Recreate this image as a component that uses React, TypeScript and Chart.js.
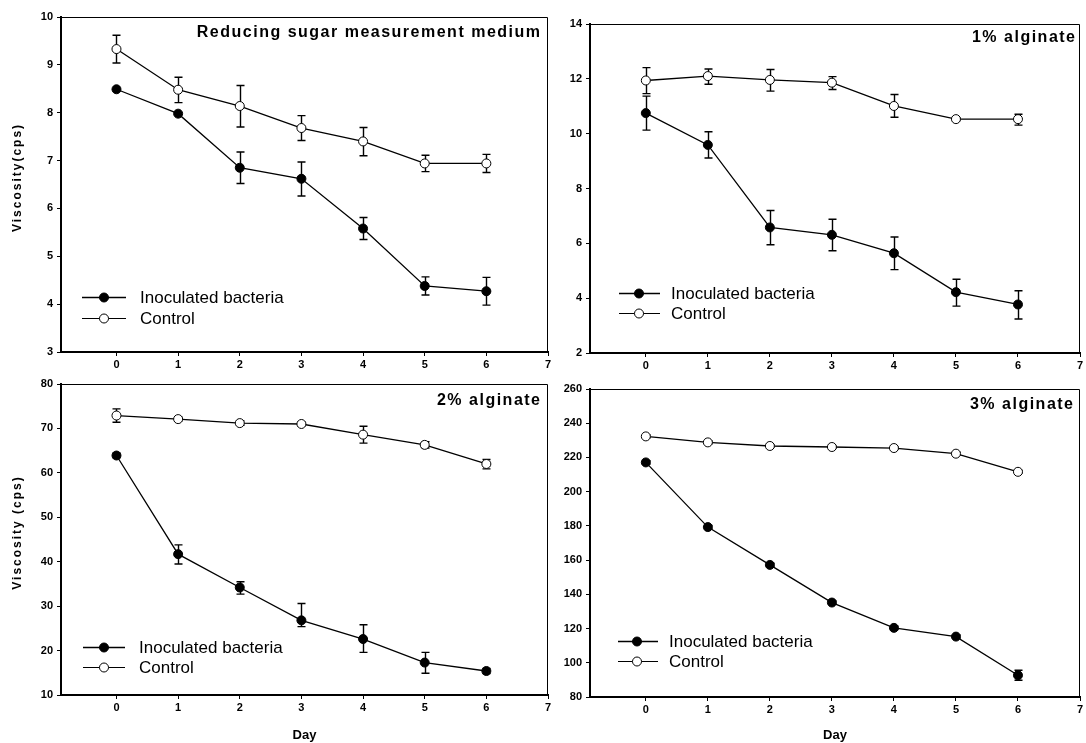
import React, { useEffect, useRef } from 'react';
import { Chart, registerables } from 'chart.js';

Chart.register(...registerables);

// ---------------- data ----------------
const DAYS = [0, 1, 2, 3, 4, 5, 6];
const X_TICKS = [0, 1, 2, 3, 4, 5, 6, 7];
const SERIES_NAMES = ['Inoculated bacteria', 'Control'];
const TITLES = ['Reducing sugar measurement medium', '1% alginate', '2% alginate', '3% alginate'];
const Y_TITLES = ['Viscosity(cps)', null, 'Viscosity (cps)', null];
const X_TITLE = 'Day';

const SUGAR_INOC = [8.49, 7.98, 6.85, 6.62, 5.58, 4.38, 4.27];
const SUGAR_INOC_UP = [0, 0, 0.33, 0.35, 0.23, 0.19, 0.29];
const SUGAR_INOC_DOWN = [0, 0, 0.33, 0.36, 0.23, 0.19, 0.29];
const SUGAR_CTRL = [9.33, 8.48, 8.14, 7.68, 7.4, 6.94, 6.94];
const SUGAR_CTRL_UP = [0.29, 0.26, 0.43, 0.26, 0.29, 0.17, 0.19];
const SUGAR_CTRL_DOWN = [0.29, 0.27, 0.44, 0.26, 0.3, 0.17, 0.19];
const SUGAR_Y_TICKS = [3, 4, 5, 6, 7, 8, 9, 10];

const ALG1_INOC = [10.75, 9.59, 6.58, 6.31, 5.64, 4.22, 3.77];
const ALG1_INOC_UP = [0.62, 0.48, 0.62, 0.57, 0.59, 0.47, 0.5];
const ALG1_INOC_DOWN = [0.62, 0.48, 0.63, 0.58, 0.6, 0.51, 0.53];
const ALG1_CTRL = [11.94, 12.1, 11.96, 11.86, 11.01, 10.53, 10.53];
const ALG1_CTRL_UP = [0.47, 0.26, 0.38, 0.22, 0.42, 0.05, 0.18];
const ALG1_CTRL_DOWN = [0.48, 0.3, 0.41, 0.25, 0.41, 0.05, 0.22];
const ALG1_Y_TICKS = [2, 4, 6, 8, 10, 12, 14];

const ALG2_INOC = [63.9, 41.7, 34.2, 26.8, 22.6, 17.3, 15.4];
const ALG2_INOC_UP = [0.5, 2.1, 1.3, 3.8, 3.2, 2.3, 0.6];
const ALG2_INOC_DOWN = [0.5, 2.2, 1.5, 1.4, 3.0, 2.4, 0.6];
const ALG2_CTRL = [72.9, 72.1, 71.2, 71.0, 68.6, 66.3, 62.0];
const ALG2_CTRL_UP = [1.5, 0.4, 0.5, 0.4, 1.9, 0.7, 1.0];
const ALG2_CTRL_DOWN = [1.5, 0.4, 0.5, 0.4, 1.9, 0.7, 1.1];
const ALG2_Y_TICKS = [10, 20, 30, 40, 50, 60, 70, 80];

const ALG3_INOC = [217.1, 179.3, 157.2, 135.2, 120.4, 115.3, 92.7];
const ALG3_INOC_UP = [1, 1, 1, 1, 1, 1, 2.9];
const ALG3_INOC_DOWN = [1, 1, 1, 1, 1, 1, 2.9];
const ALG3_CTRL = [232.3, 228.8, 226.7, 226.1, 225.5, 222.2, 211.6];
const ALG3_CTRL_UP = [0.8, 0.8, 0.8, 0.8, 0.8, 0.8, 0.8];
const ALG3_CTRL_DOWN = [0.8, 0.8, 0.8, 0.8, 0.8, 0.8, 0.8];
const ALG3_Y_TICKS = [80, 100, 120, 140, 160, 180, 200, 220, 240, 260];

const PANELS = [
  { title: TITLES[0], yTitle: Y_TITLES[0], xTitle: null, inoc: SUGAR_INOC, inocUp: SUGAR_INOC_UP, inocDown: SUGAR_INOC_DOWN, ctrl: SUGAR_CTRL, ctrlUp: SUGAR_CTRL_UP, ctrlDown: SUGAR_CTRL_DOWN, yTicks: SUGAR_Y_TICKS },
  { title: TITLES[1], yTitle: Y_TITLES[1], xTitle: null, inoc: ALG1_INOC, inocUp: ALG1_INOC_UP, inocDown: ALG1_INOC_DOWN, ctrl: ALG1_CTRL, ctrlUp: ALG1_CTRL_UP, ctrlDown: ALG1_CTRL_DOWN, yTicks: ALG1_Y_TICKS },
  { title: TITLES[2], yTitle: Y_TITLES[2], xTitle: X_TITLE, inoc: ALG2_INOC, inocUp: ALG2_INOC_UP, inocDown: ALG2_INOC_DOWN, ctrl: ALG2_CTRL, ctrlUp: ALG2_CTRL_UP, ctrlDown: ALG2_CTRL_DOWN, yTicks: ALG2_Y_TICKS },
  { title: TITLES[3], yTitle: Y_TITLES[3], xTitle: X_TITLE, inoc: ALG3_INOC, inocUp: ALG3_INOC_UP, inocDown: ALG3_INOC_DOWN, ctrl: ALG3_CTRL, ctrlUp: ALG3_CTRL_UP, ctrlDown: ALG3_CTRL_DOWN, yTicks: ALG3_Y_TICKS },
];

// ---------------- layout (styles) ----------------
const FONT = '"Liberation Sans", Arial, Helvetica, sans-serif';

const LAYOUTS = [
  { left: 0, top: 0, width: 555, height: 372, padTop: 17, padRight: 7, yWidth: 61, xHeight: 20, titleDx: 8, titleDy: 16,
    legend: { x0: 21, x1: 65, xm: 43, xt: 79, rows: [-55, -34] } },
  { left: 555, top: 0, width: 531, height: 372, padTop: 24, padRight: 6, yWidth: 35, xHeight: 19, titleDx: 5, titleDy: 14,
    legend: { x0: 29, x1: 70, xm: 49, xt: 81, rows: [-60, -40] } },
  { left: 0, top: 372, width: 555, height: 371, padTop: 12, padRight: 7, yWidth: 61, xHeight: 48, titleDx: 8, titleDy: 17,
    legend: { x0: 22, x1: 64, xm: 43, xt: 78, rows: [-48, -28] } },
  { left: 555, top: 372, width: 531, height: 371, padTop: 17, padRight: 6, yWidth: 35, xHeight: 46, titleDx: 7, titleDy: 16,
    legend: { x0: 28, x1: 68, xm: 47, xt: 79, rows: [-56, -36] } },
];

const panelDecor = {
  id: 'panelDecor',
  beforeDatasetsDraw(chart: any) {
    const ctx = chart.ctx;
    const yScale = chart.scales.y;
    ctx.save();
    ctx.strokeStyle = '#000';
    ctx.lineWidth = 1.4;
    chart.data.datasets.forEach((ds: any, i: number) => {
      const meta = chart.getDatasetMeta(i);
      ds.data.forEach((pt: any, j: number) => {
        const el = meta.data[j];
        if (!el) return;
        const up = ds.errUp ? ds.errUp[j] : 0;
        const down = ds.errDown ? ds.errDown[j] : 0;
        if (!up && !down) return;
        const x = Math.round(el.x) + 0.5;
        const yT = yScale.getPixelForValue(pt.y + up);
        const yB = yScale.getPixelForValue(pt.y - down);
        ctx.beginPath();
        ctx.moveTo(x, yT);
        ctx.lineTo(x, yB);
        ctx.moveTo(x - 4, yT);
        ctx.lineTo(x + 4, yT);
        ctx.moveTo(x - 4, yB);
        ctx.lineTo(x + 4, yB);
        ctx.stroke();
      });
    });
    ctx.restore();
  },
  afterDraw(chart: any, _args: any, opts: any) {
    const ctx = chart.ctx;
    const ca = chart.chartArea;
    ctx.save();
    // frame (top/right thin)
    ctx.strokeStyle = '#000';
    ctx.lineWidth = 1;
    ctx.beginPath();
    ctx.moveTo(ca.left, ca.top + 0.5);
    ctx.lineTo(ca.right - 0.5, ca.top + 0.5);
    ctx.lineTo(ca.right - 0.5, ca.bottom);
    ctx.stroke();

    // panel title
    ctx.fillStyle = '#000';
    ctx.font = `bold 16px ${FONT}`;
    (ctx as any).letterSpacing = '1.5px';
    ctx.textAlign = 'right';
    ctx.textBaseline = 'middle';
    ctx.fillText(opts.title, ca.right - opts.titleDx + 1.5, ca.top + opts.titleDy);

    // y title
    if (opts.yTitle) {
      ctx.save();
      ctx.font = `bold 12px ${FONT}`;
      (ctx as any).letterSpacing = '2px';
      ctx.textAlign = 'center';
      ctx.textBaseline = 'middle';
      ctx.translate(18, (ca.top + ca.bottom) / 2 - 7);
      ctx.rotate(-Math.PI / 2);
      ctx.fillText(opts.yTitle, 0, 0);
      ctx.restore();
    }

    // legend
    (ctx as any).letterSpacing = '0px';
    const lg = opts.legend;
    SERIES_NAMES.forEach((name, k) => {
      const y = Math.round(ca.bottom + lg.rows[k]) + 0.5;
      ctx.strokeStyle = '#000';
      ctx.lineWidth = k === 0 ? 1.6 : 1.1;
      ctx.beginPath();
      ctx.moveTo(ca.left + lg.x0, y);
      ctx.lineTo(ca.left + lg.x1, y);
      ctx.stroke();
      ctx.beginPath();
      ctx.arc(ca.left + lg.xm, y, 4.5, 0, Math.PI * 2);
      ctx.fillStyle = k === 0 ? '#000' : '#fff';
      ctx.fill();
      ctx.lineWidth = 1;
      ctx.stroke();
      ctx.fillStyle = '#000';
      ctx.font = `17px ${FONT}`;
      ctx.textAlign = 'left';
      ctx.textBaseline = 'middle';
      ctx.fillText(name, ca.left + lg.xt, y + 1);
    });
    ctx.restore();
  },
};

function PanelChart({ idx }: { idx: number }) {
  const ref = useRef<HTMLCanvasElement | null>(null);
  const p = PANELS[idx];
  const L = LAYOUTS[idx];
  useEffect(() => {
    if (!ref.current) return;
    const tickFont = { family: FONT, weight: 'bold' as const, size: 11 };
    const mkDs = (label: string, vals: number[], up: number[], down: number[], filled: boolean) => ({
      label,
      data: DAYS.map((d, i) => ({ x: d, y: vals[i] })),
      errUp: up,
      errDown: down,
      borderColor: '#000',
      borderWidth: 1.3,
      pointRadius: 4.5,
      pointBackgroundColor: filled ? '#000' : '#fff',
      pointBorderColor: '#000',
      pointBorderWidth: 1,
      tension: 0,
      fill: false,
    });
    const chart = new Chart(ref.current, {
      type: 'line',
      data: {
        datasets: [
          mkDs(SERIES_NAMES[0], p.inoc, p.inocUp, p.inocDown, true),
          mkDs(SERIES_NAMES[1], p.ctrl, p.ctrlUp, p.ctrlDown, false),
        ] as any,
      },
      options: {
        animation: false,
        responsive: false,
        maintainAspectRatio: false,
        devicePixelRatio: 1,
        layout: { padding: { top: L.padTop, right: L.padRight, left: 0, bottom: 0 } },
        plugins: {
          legend: { display: false },
          tooltip: { enabled: false },
          panelDecor: {
            title: p.title,
            yTitle: p.yTitle,
            titleDx: L.titleDx,
            titleDy: L.titleDy,
            legend: L.legend,
          },
        } as any,
        scales: {
          x: {
            type: 'linear',
            min: -0.9,
            max: 7,
            afterBuildTicks: (s: any) => { s.ticks = X_TICKS.map((v) => ({ value: v })); },
            afterFit: (s: any) => { s.height = L.xHeight; },
            grid: { drawOnChartArea: false, drawTicks: true, tickLength: 4, color: '#000', lineWidth: 1 },
            border: { display: true, color: '#000', width: 2 },
            ticks: { color: '#000', font: tickFont, padding: 2, maxRotation: 0, autoSkip: false },
            title: {
              display: !!p.xTitle,
              text: p.xTitle || '',
              color: '#000',
              font: { family: FONT, weight: 'bold', size: 13 },
              padding: { top: 0, bottom: 0 },
            },
          },
          y: {
            type: 'linear',
            min: p.yTicks[0],
            max: p.yTicks[p.yTicks.length - 1],
            afterBuildTicks: (s: any) => { s.ticks = p.yTicks.map((v) => ({ value: v })); },
            afterFit: (s: any) => { s.width = L.yWidth; },
            grid: { drawOnChartArea: false, drawTicks: true, tickLength: 4, color: '#000', lineWidth: 1 },
            border: { display: true, color: '#000', width: 2 },
            ticks: { color: '#000', font: tickFont, padding: 4, autoSkip: false },
          },
        } as any,
      },
      plugins: [panelDecor as any],
    });
    return () => chart.destroy();
  }, [idx]);
  return (
    <div style={{ position: 'absolute', left: L.left, top: L.top, width: L.width, height: L.height }}>
      <canvas ref={ref} width={L.width} height={L.height} style={{ width: L.width, height: L.height, display: 'block' }} />
    </div>
  );
}

export default function App() {
  return (
    <div style={{ position: 'fixed', left: 0, top: 0, width: 1086, height: 743, background: '#fff', overflow: 'hidden' }}>
      {PANELS.map((_, i) => (
        <PanelChart key={i} idx={i} />
      ))}
    </div>
  );
}
